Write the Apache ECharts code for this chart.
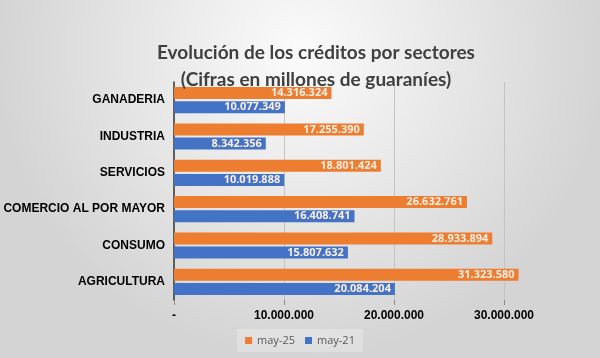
<!DOCTYPE html>
<html><head><meta charset="utf-8">
<style>html,body{margin:0;padding:0;}#c{width:600px;height:358px;}</style>
<script src="https://cdn.jsdelivr.net/npm/echarts@6/dist/echarts.min.js"></script>
</head><body><div id="c"></div>
<script>
const categories = ['AGRICULTURA','CONSUMO','COMERCIO AL POR MAYOR','SERVICIOS','INDUSTRIA','GANADERIA'];
const may25 = [31323580, 28933894, 26632761, 18801424, 17255390, 14316324];
const may21 = [20084204, 15807632, 16408741, 10019888, 8342356, 10077349];
const xTicks = ['-', '10.000.000', '20.000.000', '30.000.000'];

function fmt(v){ return String(v).replace(/\B(?=(\d{3})+(?!\d))/g, '.'); }

const chart = echarts.init(document.getElementById('c'));
const labelStyle = {show:true, position:'insideRight', color:'#fbefe4', fontFamily:'Open Sans', fontWeight:'bold', fontSize:11, distance:4, formatter:p=>fmt(p.value)};
chart.setOption({
  backgroundColor: {type:'radial', x:0.5, y:0.15, r:0.85, colorStops:[{offset:0,color:'#fbfbfb'},{offset:1,color:'#d4d4d4'}]},
  animation:false,
  title:{text:'Evolución de los créditos por sectores\n(Cifras en millones de guaraníes)', left:311, top:34, textAlign:'center',
    textStyle:{fontFamily:'Lato', fontWeight:'bold', fontSize:19, color:'#404040', lineHeight:27}},
  legend:{data:['may-25','may-21'], bottom:6, left:'center', itemWidth:7, itemHeight:7, icon:'rect', itemGap:10,
    backgroundColor:'rgba(255,255,255,0.25)', padding:[6,8],
    textStyle:{fontFamily:'Open Sans', fontSize:11, color:'#595959'}},
  grid:{left:174, right:41, top:82, bottom:58},
  xAxis:{type:'value', min:0, max:35000000, interval:10000000,
    axisLine:{show:false},
    axisTick:{show:true, length:5, lineStyle:{color:'#8c8c8c'}},
    axisLabel:{showMaxLabel:false, margin:10, fontFamily:'Liberation Sans', fontWeight:'bold', fontSize:12, color:'#000',
      formatter:v=> v===0 ? '-' : xTicks[Math.round(v/10000000)] || ''},
    splitLine:{show:true, showMinLine:false, showMaxLine:false, lineStyle:{color:'#c4c4c4'}}},
  yAxis:{type:'category', data:categories,
    axisLine:{show:true, lineStyle:{color:'#333', width:1.5}},
    axisTick:{show:false},
    axisLabel:{margin:9, fontFamily:'Liberation Sans', fontWeight:'bold', fontSize:12, color:'#000'}},
  series:[
    {name:'may-25', type:'bar', data:may25, barWidth:12, barGap:'18%', itemStyle:{color:'#ed7d31'}, label:labelStyle},
    {name:'may-21', type:'bar', data:may21, barWidth:12, barGap:'18%', itemStyle:{color:'#4472c4'}, label:labelStyle}
  ]
});
</script></body></html>
